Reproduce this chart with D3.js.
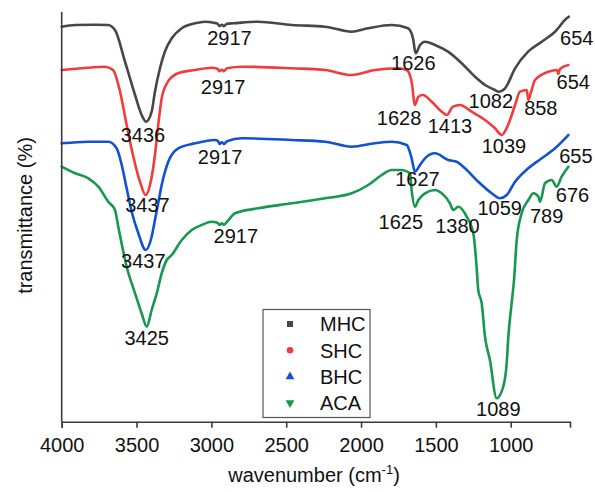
<!DOCTYPE html>
<html>
<head>
<meta charset="utf-8">
<script src="https://cdn.jsdelivr.net/npm/d3@7"></script>
<style>
  html, body { margin: 0; padding: 0; background: #fff; }
  svg { display: block; font-family: "Liberation Sans", Arial, sans-serif; }
</style>
</head>
<body>
<svg id="chart" width="595" height="492"></svg>
<script>
// ---------------- DATA ----------------
// wavenumber (cm^-1)
const seriesNames = ["MHC", "SHC", "BHC", "ACA"];
const xTicks = [4000, 3500, 3000, 2500, 2000, 1500, 1000];

// Transmittance (arbitrary, vertically offset units): [wavenumber, value]
const mhc = [
  [4000,395],[3911,396.7],[3778,397],[3691,396.7],[3644,391.7],[3577,360],[3510,326.7],
  [3466,306.7],[3436,300],[3399,310],[3377,330],[3343,353.7],[3311,370],[3265,383.4],
  [3198,393.4],[3109,398.4],[3042,400],[2985,399],[2960,398],[2945,395.5],[2930,397],
  [2917,395.5],[2895,398],[2855,398.4],[2688,400],[2463,396.7],[2241,395],[2063,390],
  [1954,393.4],[1795,396.7],[1686,393.4],[1653,383.4],[1635,368.4],[1606,376.7],
  [1573,380],[1506,376.7],[1419,370],[1328,358.4],[1239,345],[1172,336.7],[1105,331.7],
  [1083,330],[1038,333.4],[971,353.4],[884,370],[793,380],[704,390],[626,403.4],[612,405]
];
const shc = [
  [4000,351.7],[3866,353.4],[3711,355],[3657,351.7],[3610,330],[3566,296.7],[3524,266.7],
  [3477,240],[3439,226.7],[3410,236.7],[3377,266.7],[3355,296.7],[3332,323.4],[3290,340],
  [3223,348.4],[3109,351.7],[2998,354],[2960,353],[2945,350.5],[2930,352],[2917,350.5],
  [2895,353.5],[2797,355],[2463,353.4],[2241,351.7],[2063,346.7],[1907,351.7],
  [1751,353.4],[1695,351.7],[1662,340],[1640,316.7],[1617,325],[1586,326.7],[1528,320],
  [1461,310],[1428,306.7],[1386,315],[1339,316.7],[1261,310],[1172,301.7],[1105,293.4],
  [1060,286.7],[1018,296.7],[971,316.7],[938,330],[893,331.7],[882,321.7],[864,329.7],
  [838,341.7],[749,350],[691,351.7],[682,347.7],[671,352.7],[615,356.7]
];
const bhc = [
  [4000,278.4],[3822,280],[3689,280],[3633,273.4],[3599,256.7],[3566,233.4],[3532,209.7],
  [3488,188.4],[3439,171.7],[3399,185],[3377,201.7],[3355,218.7],[3332,236.7],[3288,260],
  [3221,273.4],[3109,278.4],[2976,281.7],[2955,280.5],[2945,277.7],[2930,279.5],
  [2917,277.7],[2895,280.5],[2797,283.4],[2463,281.7],[2241,280],[2063,275],[1907,278.4],
  [1795,280],[1695,276.7],[1662,263.4],[1640,250],[1606,256.7],[1573,263.4],[1506,268.4],
  [1417,261.7],[1361,260],[1306,253.4],[1217,240],[1127,228.4],[1072,223.4],[1027,226.7],
  [971,240],[883,253.4],[793,263.4],[704,273.4],[615,286.7]
];
const aca = [
  [4000,255],[3911,248.4],[3822,243.4],[3755,235],[3689,220],[3644,211.7],[3622,195],
  [3566,155],[3510,128.4],[3466,108.4],[3432,95],[3399,111.7],[3365,128.4],[3332,148.4],
  [3298,161.7],[3265,166.7],[3198,181.7],[3131,191.7],[3065,196.7],[2998,200],
  [2960,199],[2945,196.7],[2930,198.5],[2917,196.7],[2895,200],[2842,208.4],
  [2687,213.4],[2463,218.4],[2241,223.4],[2063,228.4],[1952,236.7],[1862,246.7],
  [1795,251.7],[1751,251.7],[1728,251.7],[1673,248.4],[1662,231.7],[1640,215],
  [1617,221.7],[1573,228.4],[1506,231.7],[1461,228.4],[1406,218.4],[1384,211.7],
  [1350,215],[1294,205],[1250,188.4],[1228,155],[1217,131.7],[1194,118.4],[1172,85],
  [1139,61.7],[1094,23.4],[1050,35],[1027,58.4],[1016,85],[994,118.4],[978,141.7],
  [960,181.7],[927,208.4],[882,221.7],[849,228.4],[815,225],[804,220],[771,238.4],
  [726,241.7],[693,235],[660,245],[615,255]
];
const seriesData = [mhc, shc, bhc, aca];

// Peak annotations: [label, wavenumber anchor, value anchor]
const mhcPeaks = [["2917",2879,376.7],["3436",3457,279.7],["1626",1651,351.7],["1082",1133,313.4],["654",559,376.7]];
const shcPeaks = [["2917",2922,327.7],["3437",3427,210],["1628",1746,296.7],["1413",1406,288.4],["1039",1045,268.4],["858",799,306.7],["654",582,332.4]];
const bhcPeaks = [["2917",2942,257.7],["3437",3455,153.4],["1627",1623,235.7],["1059",1074,206.7],["655",565,259]];
const acaPeaks = [["2917",2837,178.4],["3425",3432,76.7],["1625",1734,192.4],["1380",1356,188.4],["789",760,198.4],["676",587,220],["1089",1083,5.7]];
const peakSets = [mhcPeaks, shcPeaks, bhcPeaks, acaPeaks];

// ---------------- STYLE / LAYOUT ----------------
const colors = ["#474747", "#f23c3c", "#1152d2", "#17984f"];
const symbols = [d3.symbolSquare, d3.symbolCircle, d3.symbolTriangle, d3.symbolTriangle];
const symbolRot = [0, 0, 0, 180];
const margin = {left: 61.7, right: 25, top: 12, bottom: 70.3};
const W = 595, H = 492;

const svg = d3.select("#chart");
const x = d3.scaleLinear().domain([4000, 604]).range([margin.left, W - margin.right]);
const y = d3.scaleLinear().domain([0, 409]).range([H - margin.bottom, H - margin.bottom - 409]);

const axisColor = "#3a3a3a";

// curves
const line = d3.line()
  .x(d => x(d[0]))
  .y(d => y(d[1]))
  .curve(d3.curveMonotoneX);

seriesData.forEach((s, i) => {
  svg.append("path")
    .datum(s)
    .attr("fill", "none")
    .attr("stroke", colors[i])
    .attr("stroke-width", 2.6)
    .attr("stroke-linejoin", "round")
    .attr("stroke-linecap", "round")
    .attr("d", line);
});

// axes
const xAxis = d3.axisBottom(x).tickValues(xTicks).tickSize(6).tickPadding(10).tickFormat(d3.format("d"));
const gx = svg.append("g").attr("transform", `translate(0,${y(0)})`).call(xAxis);
gx.select(".domain").attr("stroke", axisColor).attr("stroke-width", 1.6);
gx.selectAll(".tick line").attr("stroke", axisColor).attr("stroke-width", 1.6);
gx.selectAll(".tick text").attr("fill", "#111").style("font-size", "20px")
  .style("font-family", '"Liberation Sans", Arial, sans-serif');

svg.append("line")
  .attr("x1", x(4000)).attr("x2", x(4000))
  .attr("y1", y(0)).attr("y2", margin.top)
  .attr("stroke", axisColor).attr("stroke-width", 1.6);

// axis titles
const xt = svg.append("text")
  .attr("x", 314).attr("y", 482)
  .attr("text-anchor", "middle")
  .attr("fill", "#111")
  .style("font-size", "20px");
xt.append("tspan").text("wavenumber (cm");
xt.append("tspan").text("-1").attr("dy", -8).style("font-size", "13px");
xt.append("tspan").text(")").attr("dy", 8);

svg.append("text")
  .attr("transform", "translate(31.5,215.5) rotate(-90)")
  .attr("text-anchor", "middle")
  .attr("fill", "#111")
  .style("font-size", "20px")
  .text("transmittance (%)");

// peak labels
peakSets.forEach(set => {
  svg.append("g").selectAll("text").data(set).join("text")
    .attr("x", d => x(d[1]))
    .attr("y", d => y(d[2]))
    .attr("text-anchor", "middle")
    .attr("fill", "#111")
    .style("font-size", "20px")
    .text(d => d[0]);
});

// legend
const lg = svg.append("g");
lg.append("rect")
  .attr("x", 263).attr("y", 309.5).attr("width", 107).attr("height", 108)
  .attr("fill", "#fff").attr("stroke", "#555").attr("stroke-width", 1.2);
seriesNames.forEach((name, i) => {
  const cy = 324 + i * 26.3;
  lg.append("path")
    .attr("d", d3.symbol().type(symbols[i]).size(i === 0 ? 36 : 34)())
    .attr("transform", `translate(290,${cy}) rotate(${symbolRot[i]})`)
    .attr("fill", colors[i]);
  lg.append("text")
    .attr("x", 320).attr("y", cy)
    .attr("dy", "0.36em")
    .attr("fill", "#111")
    .style("font-size", "20px")
    .text(name);
});
</script>
</body>
</html>
